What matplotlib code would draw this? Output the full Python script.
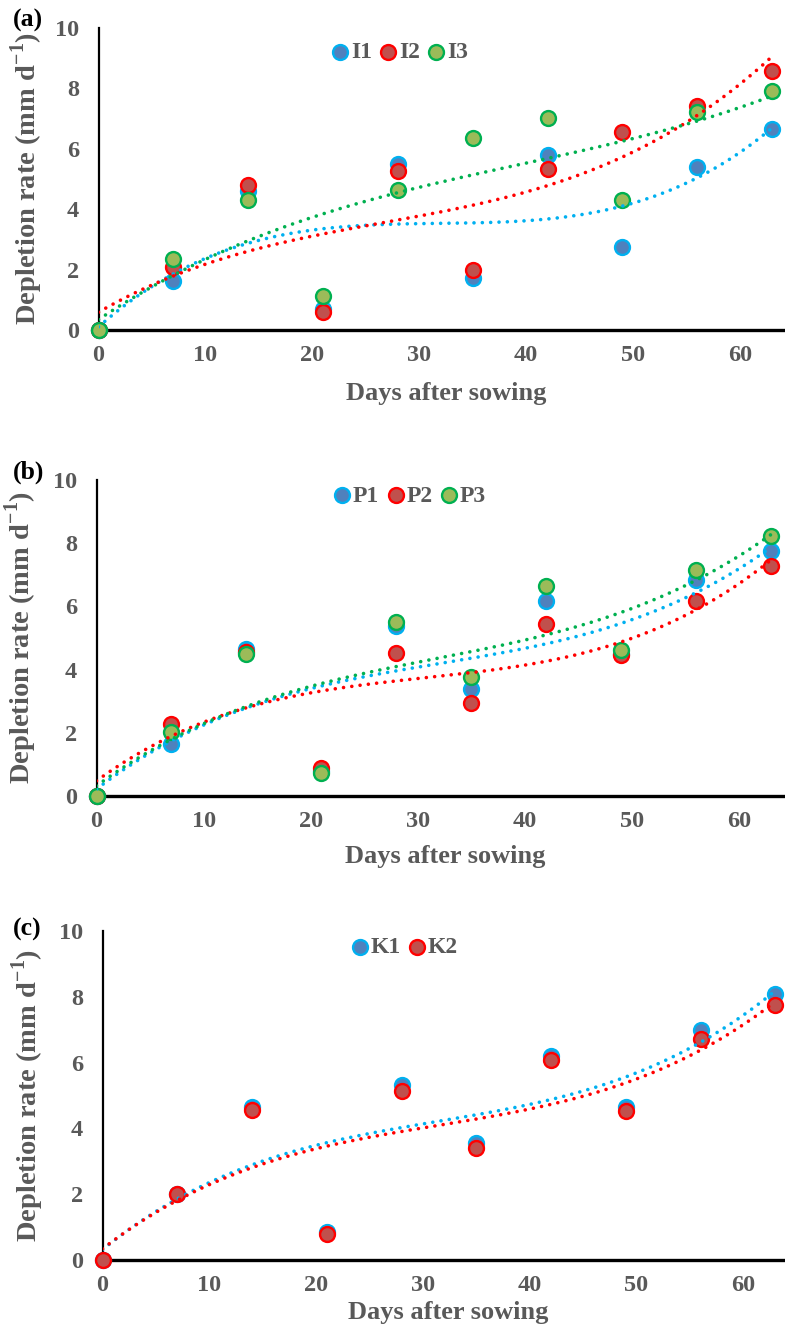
import numpy as np
import matplotlib
matplotlib.use("Agg")
import matplotlib.pyplot as plt

plt.rcParams['font.family'] = ['Liberation Serif', 'DejaVu Serif']
plt.rcParams['font.weight'] = 'bold'
plt.rcParams['mathtext.fontset'] = 'custom'
plt.rcParams['mathtext.rm'] = 'Liberation Serif:bold'
plt.rcParams['mathtext.bf'] = 'Liberation Serif:bold'

days = [0, 7, 14, 21, 28, 35, 42, 49, 56, 63]

# panel (a) irrigation
I1 = [0, 1.62, 4.6, 0.7, 5.5, 1.72, 5.8, 2.75, 5.41, 6.66]
I2 = [0, 2.08, 4.8, 0.6, 5.25, 2.0, 5.33, 6.55, 7.43, 8.58]
I3 = [0, 2.34, 4.29, 1.13, 4.65, 6.37, 7.03, 4.3, 7.23, 7.92]

# panel (b)
P1 = [0, 1.66, 4.65, 0.8, 5.37, 3.39, 6.17, 4.5, 6.84, 7.76]
P2 = [0, 2.27, 4.55, 0.9, 4.53, 2.94, 5.43, 4.47, 6.17, 7.28]
P3 = [0, 2.04, 4.48, 0.72, 5.5, 3.77, 6.65, 4.63, 7.16, 8.24]

# panel (c)
K1 = [0, 2.0, 4.66, 0.85, 5.33, 3.56, 6.2, 4.66, 6.98, 8.08]
K2 = [0, 2.0, 4.55, 0.8, 5.15, 3.4, 6.07, 4.52, 6.73, 7.74]

BLUE = ("#4F81BD", "#00B0F0")
RED = ("#C0504D", "#FF0000")
GREEN = ("#9BBB59", "#00B050")
GREY = "#595959"

W, H = 785, 1328
fig = plt.figure(figsize=(W / 100, H / 100), dpi=100)

# pixel boxes: (x of y-axis, y of x-axis, y of top, xmax, legend x, legend y, xlabel y, ylabel x)
panels = [
    ("(a)", [("I1", I1, BLUE), ("I2", I2, RED), ("I3", I3, GREEN)],
     98.5, 330, 28, 64.2, 0.44, 0.92, -0.21, -0.104, 20),
    ("(b)", [("P1", P1, BLUE), ("P2", P2, RED), ("P3", P3, GREEN)],
     96.5, 796, 480, 64.3, 0.456, 0.95, -0.193, -0.11, 472),
    ("(c)", [("K1", K1, BLUE), ("K2", K2, RED)],
     102.5, 1260, 931, 63.9, 0.444, 0.95, -0.161, -0.11, 929),
]

xs = np.linspace(0, 63, 300)
for tag, series, x0, y0, ytop, xmax, lx, ly, xly, ylx, tagy in panels:
    ax = fig.add_axes([x0 / W, 1 - y0 / H, (W - x0) / W, (y0 - ytop) / H])
    for k, (name, vals, (fc, ec)) in enumerate(series):
        ax.scatter(days, vals, s=115, facecolor=fc, edgecolor=ec, linewidth=1.7,
                   zorder=3 + k, clip_on=False, label=name)
    # polynomial trendlines (order 3), drawn on top of markers
    for k, (name, vals, (fc, ec)) in enumerate(series):
        coef = np.polyfit(days, vals, 3)
        ax.plot(xs, np.polyval(coef, xs), color=ec, lw=2.6,
                linestyle=(0, (0.01, 2.3)), dash_capstyle='round', zorder=10 + k)
    ax.set_xlim(0, xmax)
    ax.set_ylim(0, 10)
    ax.set_xticks([0, 10, 20, 30, 40, 50, 60])
    ax.set_yticks([0, 2, 4, 6, 8, 10])
    ax.tick_params(length=0, labelsize=17.5, labelcolor=GREY)
    ax.tick_params(axis='x', pad=11)
    ax.tick_params(axis='y', pad=14)
    for lab in ax.get_xticklabels() + ax.get_yticklabels():
        lab.set_fontweight('bold')
    for s in ['top', 'right']:
        ax.spines[s].set_visible(False)
    ax.spines['left'].set_linewidth(1.6)
    ax.spines['bottom'].set_linewidth(2.4)
    ax.set_xlabel("Days after sowing", fontsize=19, fontweight='bold', color=GREY)
    ax.xaxis.set_label_coords(0.506, xly)
    ax.xaxis.label.set_va('center')
    ax.set_ylabel(r"Depletion rate (mm d$^{-1}$)", fontsize=20.5, fontweight='bold', color=GREY)
    ax.yaxis.set_label_coords(ylx, 0.5)
    ax.yaxis.label.set_va('center')
    leg = ax.legend(loc='center', bbox_to_anchor=(lx, ly), ncol=len(series), frameon=False,
                    handlelength=0.6, handletextpad=0.15, columnspacing=0.4,
                    borderpad=0, prop={'size': 17, 'weight': 'bold'})
    for t in leg.get_texts():
        t.set_color(GREY)
    fig.text(13 / W, 1 - tagy / H, tag, fontsize=18.5, fontweight='bold', color='black',
             ha='left', va='center')

fig.savefig("out.png", dpi=100)
